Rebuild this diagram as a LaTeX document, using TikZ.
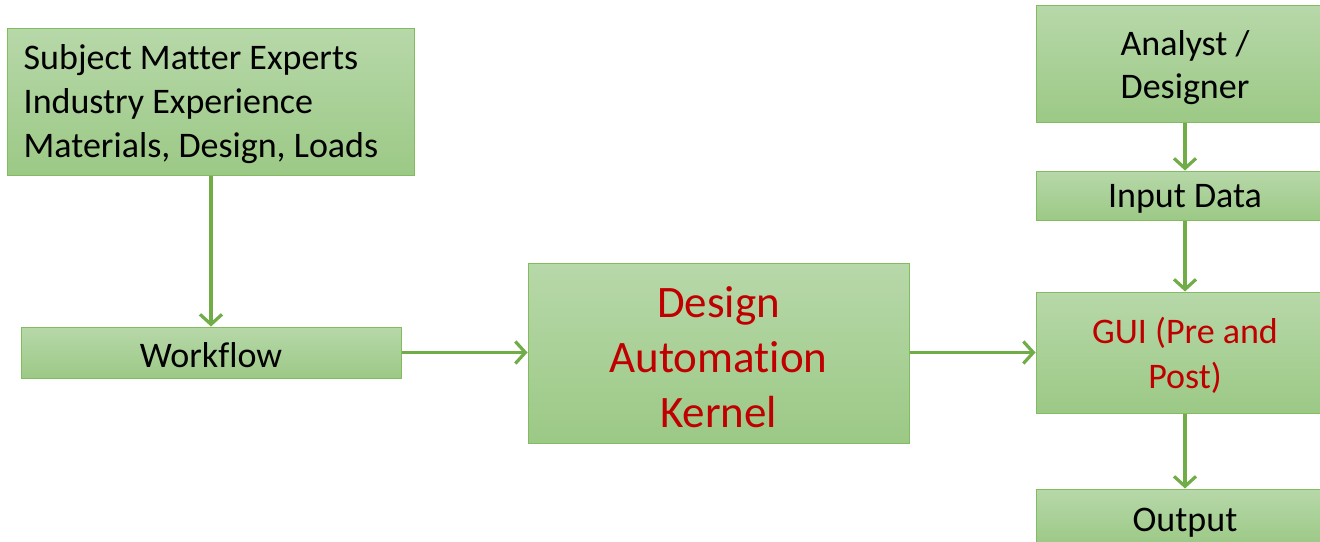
\documentclass[tikz,border=0pt]{standalone}
\usepackage{fontspec}
\setmainfont[Ligatures={NoCommon}]{Carlito}
\usetikzlibrary{arrows.meta}
\definecolor{gtop}{HTML}{B7D8A9}
\definecolor{gbot}{HTML}{9CC986}
\definecolor{boxline}{HTML}{82BC5E}
\definecolor{arrgreen}{HTML}{70AD47}
\definecolor{dred}{HTML}{C00000}
\tikzset{
  box/.style={draw=boxline, line width=1pt, top color=gtop, bottom color=gbot, inner sep=0pt},
  txt/.style={inner sep=0pt, align=center, font=\fontsize{36}{44}\selectfont, yshift=-3pt},
  arr/.style={draw=arrgreen, line width=3.2pt, -{Straight Barb[length=10pt,width=22pt,line width=3.2pt]}}
}
\begin{document}
\begin{tikzpicture}[x=1pt,y=-1pt]
\useasboundingbox (0,0) rectangle (1320,541);
\clip (0,0) rectangle (1320,541);
\node[box, minimum width=407pt, minimum height=147pt] (sme) at (210.5,101.5) {};
\node[txt, align=left, anchor=west] (smet) at ([xshift=17pt]sme.west)
  {Subject Matter Experts\\Industry Experience\\Materials, Design, Loads};
\node[box, minimum width=380pt, minimum height=51pt] (wf) at (211,352.5) {};
\node[txt] (wft) at (wf) {Workflow};
\node[box, minimum width=381pt, minimum height=180pt] (dak) at (718.5,353) {};
\node[txt, text=dred, font=\fontsize{45}{55}\selectfont, yshift=-1pt] (dakt) at (dak) {Design\\Automation\\Kernel};
\node[box, minimum width=298pt, minimum height=117pt] (ana) at (1185,63.5) {};
\node[txt, font=\fontsize{36}{43}\selectfont, yshift=-1pt] (anat) at (ana) {Analyst /\\Designer};
\node[box, minimum width=298pt, minimum height=49pt] (inp) at (1185,195.5) {};
\node[txt] (inpt) at (inp) {Input Data};
\node[box, minimum width=298pt, minimum height=121pt] (gui) at (1185,352.5) {};
\node[txt, text=dred, font=\fontsize{36}{45}\selectfont] (guit) at (gui) {GUI (Pre and\\Post)};
\node[box, minimum width=298pt, minimum height=56pt] (out) at (1185,517) {};
\node[txt, yshift=-3pt] (outt) at (out) {Output};
\draw[arr] (sme.south -| wf.north) -- (wf.north);
\draw[arr] (wf.east) -- (wf.east -| dak.west);
\draw[arr] (dak.east |- gui.west) -- (gui.west);
\draw[arr] (ana.south) -- (inp.north);
\draw[arr] (inp.south) -- (gui.north);
\draw[arr] (gui.south) -- (out.north);
\end{tikzpicture}
\end{document}
